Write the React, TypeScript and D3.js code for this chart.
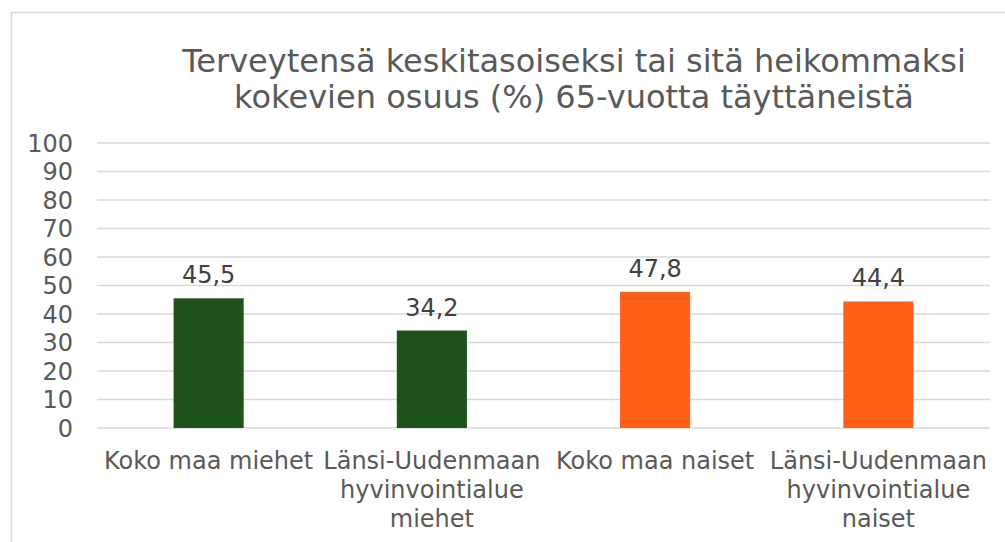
import React from 'react';
import * as d3 from 'd3';

const categories = [
    ['Koko maa miehet'],
    ['Länsi-Uudenmaan', 'hyvinvointialue', 'miehet'],
    ['Koko maa naiset'],
    ['Länsi-Uudenmaan', 'hyvinvointialue', 'naiset'],
];
const values = [45.5, 34.2, 47.8, 44.4];
const barColors = ['#1e5219', '#1e5219', '#ff5f17', '#ff5f17'];
const yTicks = [0, 10, 20, 30, 40, 50, 60, 70, 80, 90, 100];
const titleLines = [
    'Terveytensä keskitasoiseksi tai sitä heikommaksi',
    'kokevien osuus (%) 65-vuotta täyttäneistä',
];

const font = 'DejaVu Sans, Verdana, sans-serif';

export default function App() {
    const width = 1005;
    const height = 542;
    const left = 97;
    const right = 990;
    const top = 143;
    const bottom = 428;

    const x = d3.scaleBand<number>()
        .domain(values.map((_, i) => i))
        .range([left, right])
        .paddingInner(0.686)
        .paddingOuter(0.343);
    const y = d3.scaleLinear().domain([0, 100]).range([bottom, top]);

    return (
        <svg width={width} height={height}
            style={{ position: 'absolute', left: 0, top: 0 }}>
            <rect x={0} y={0} width={width} height={height} fill='#fff' />
            {/* chart frame, cut off at right and bottom */}
            <path d='M11.5,560 V12.5 H1010' fill='none' stroke='#d9d9d9' strokeWidth={1.5} />

            {titleLines.map((t, i) => (
                <text key={i} x={574} y={72 + i * 36} textAnchor='middle'
                    fontFamily={font} fontSize={32} fill='#595959'>{t}</text>
            ))}

            {yTicks.map((t) => (
                <g key={t}>
                    <line x1={left} x2={right} y1={y(t)} y2={y(t)}
                        stroke='#d9d9d9' strokeWidth={1.5} />
                    <text x={73} y={y(t) + 8.5} textAnchor='end'
                        fontFamily={font} fontSize={24} fill='#595959'>{t}</text>
                </g>
            ))}

            {values.map((v, i) => (
                <g key={i}>
                    <rect x={x(i)} y={y(v)} width={x.bandwidth()}
                        height={y(0) - y(v)} fill={barColors[i]} />
                    <text x={(x(i) ?? 0) + x.bandwidth() / 2} y={y(v) - 15}
                        textAnchor='middle' fontFamily={font} fontSize={24}
                        fill='#404040'>{String(v).replace('.', ',')}</text>
                </g>
            ))}

            {categories.map((lines, i) => (
                <text key={i} x={(x(i) ?? 0) + x.bandwidth() / 2} textAnchor='middle'
                    fontFamily={font} fontSize={24} fill='#595959'>
                    {lines.map((l, j) => (
                        <tspan key={j} x={(x(i) ?? 0) + x.bandwidth() / 2}
                            y={469 + j * 29}>{l}</tspan>
                    ))}
                </text>
            ))}
        </svg>
    );
}
